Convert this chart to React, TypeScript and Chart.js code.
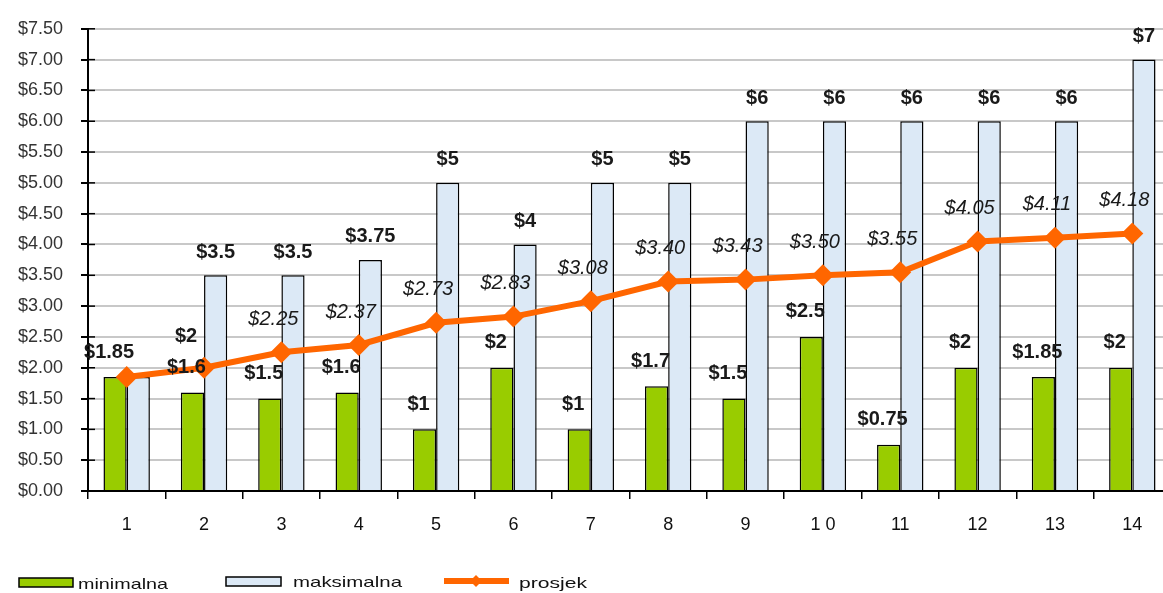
import React, { useEffect, useRef } from "react";
import { Chart, registerables } from "chart.js";

Chart.register(...registerables);

const categories = ["1", "2", "3", "4", "5", "6", "7", "8", "9", "1 0", "11", "12", "13", "14"];
const minValues = [1.85, 1.6, 1.5, 1.6, 1, 2, 1, 1.7, 1.5, 2.5, 0.75, 2, 1.85, 2];
const maxValues = [1.85, 3.5, 3.5, 3.75, 5, 4, 5, 5, 6, 6, 6, 6, 6, 7];
const avgValues = [1.85, 2, 2.25, 2.37, 2.73, 2.83, 3.08, 3.4, 3.43, 3.5, 3.55, 4.05, 4.11, 4.18];
const minLabels = ["$1.85", "$1.6", "$1.5", "$1.6", "$1", "$2", "$1", "$1.7", "$1.5", "$2.5", "$0.75", "$2", "$1.85", "$2"];
const maxLabels = ["", "$3.5", "$3.5", "$3.75", "$5", "$4", "$5", "$5", "$6", "$6", "$6", "$6", "$6", "$7"];
const avgLabels = ["", "$2", "$2.25", "$2.37", "$2.73", "$2.83", "$3.08", "$3.40", "$3.43", "$3.50", "$3.55", "$4.05", "$4.11", "$4.18"];
const seriesNames = ["minimalna", "maksimalna", "prosjek"];
const yTicks = { min: 0, max: 7.5, step: 0.5 };

const GREEN = "#99cc00";
const BLUE = "#dce9f6";
const ORANGE = "#ff6600";
const FONT = "'Liberation Sans', Arial, sans-serif";

const labelPlugin = {
  id: "valueLabels",
  afterDatasetsDraw(chart: any) {
    const ctx = chart.ctx;
    ctx.save();
    ctx.textAlign = "center";
    ctx.textBaseline = "middle";
    ctx.fillStyle = "#1a1a1a";
    const m0 = chart.getDatasetMeta(0).data;
    const m1 = chart.getDatasetMeta(1).data;
    const m2 = chart.getDatasetMeta(2).data;
    ctx.font = `bold 20px ${FONT}`;
    m0.forEach((el: any, i: number) => {
      if (minLabels[i]) ctx.fillText(minLabels[i], el.x - 6, el.y - 25);
    });
    m1.forEach((el: any, i: number) => {
      if (maxLabels[i]) ctx.fillText(maxLabels[i], el.x, el.y - 23);
    });
    m2.forEach((el: any, i: number) => {
      if (!avgLabels[i]) return;
      if (i === 1) {
        ctx.font = `bold 20px ${FONT}`;
        ctx.fillText(avgLabels[i], el.x - 18, el.y - 31);
      } else {
        ctx.font = `italic 20px ${FONT}`;
        ctx.fillText(avgLabels[i], el.x - 8, el.y - 33);
      }
    });
    ctx.restore();
  },
  afterDraw(chart: any) {
    const ctx = chart.ctx;
    ctx.save();
    const y = 583;
    ctx.fillStyle = GREEN;
    ctx.strokeStyle = "#000";
    ctx.lineWidth = 1.5;
    ctx.fillRect(19, y - 5, 54, 9);
    ctx.strokeRect(19, y - 5, 54, 9);
    ctx.fillStyle = BLUE;
    ctx.fillRect(226, y - 6, 55, 9);
    ctx.strokeRect(226, y - 6, 55, 9);
    ctx.strokeStyle = ORANGE;
    ctx.lineWidth = 6;
    ctx.beginPath();
    ctx.moveTo(444, y - 2);
    ctx.lineTo(509, y - 2);
    ctx.stroke();
    ctx.fillStyle = ORANGE;
    ctx.beginPath();
    ctx.moveTo(476, y - 8);
    ctx.lineTo(482, y - 2);
    ctx.lineTo(476, y + 4);
    ctx.lineTo(470, y - 2);
    ctx.closePath();
    ctx.fill();
    ctx.fillStyle = "#111";
    ctx.textBaseline = "middle";
    ctx.textAlign = "left";
    ctx.font = `15px ${FONT}`;
    const drawStretched = (t: string, x: number, yy: number, w: number) => {
      const mw = ctx.measureText(t).width;
      ctx.save();
      ctx.translate(x, yy);
      ctx.scale(w / mw, 1);
      ctx.fillText(t, 0, 0);
      ctx.restore();
    };
    drawStretched(seriesNames[0], 78, y + 2, 90);
    drawStretched(seriesNames[1], 293, y, 109);
    drawStretched(seriesNames[2], 519, y + 1, 68);
    const ys = chart.scales.y;
    const left = chart.chartArea.left;
    ctx.strokeStyle = "#000";
    ctx.lineWidth = 1.5;
    ys.ticks.forEach((t: any) => {
      const py = ys.getPixelForValue(t.value);
      ctx.beginPath();
      ctx.moveTo(left, py);
      ctx.lineTo(left + 7, py);
      ctx.stroke();
    });
    ctx.restore();
  },
};

export default function App() {
  const ref = useRef<HTMLCanvasElement | null>(null);
  useEffect(() => {
    if (!ref.current) return;
    const chart = new Chart(ref.current, {
      type: "bar",
      data: {
        labels: categories,
        datasets: [
          {
            type: "bar",
            label: seriesNames[0],
            data: minValues,
            backgroundColor: GREEN,
            borderColor: "#000",
            borderWidth: 1.5,
            categoryPercentage: 0.6,
            barPercentage: 1,
            order: 2,
          },
          {
            type: "bar",
            label: seriesNames[1],
            data: maxValues,
            backgroundColor: BLUE,
            borderColor: "#000",
            borderWidth: 1.5,
            categoryPercentage: 0.6,
            barPercentage: 1,
            order: 2,
          },
          {
            type: "line",
            label: seriesNames[2],
            data: avgValues,
            borderColor: ORANGE,
            backgroundColor: ORANGE,
            borderWidth: 6,
            pointStyle: "rectRot",
            pointRadius: 11,
            pointBorderWidth: 0,
            pointBackgroundColor: ORANGE,
            tension: 0,
            order: 0,
          } as any,
        ],
      },
      options: {
        animation: false,
        responsive: false,
        maintainAspectRatio: false,
        layout: { autoPadding: false, padding: { top: 24, right: 9, bottom: 0, left: 0 } } as any,
        plugins: { legend: { display: false }, tooltip: { enabled: false } },
        scales: {
          x: {
            offset: true,
            grid: {
              offset: true,
              drawOnChartArea: false,
              color: "#000",
              tickColor: "#000",
              tickLength: 8,
              lineWidth: 1.5,
            },
            border: { color: "#000", width: 2 },
            ticks: {
              color: "#111",
              padding: 15,
              font: { family: FONT, size: 18 },
              maxRotation: 0,
              autoSkip: false,
            },
            afterFit(axis: any) {
              axis.height = 102;
            },
          },
          y: {
            min: yTicks.min,
            max: yTicks.max,
            grid: {
              color: "#c8c8c8",
              lineWidth: 2,
              tickColor: "#000",
              tickLength: 7,
            },
            border: { color: "#000", width: 2 },
            ticks: {
              stepSize: yTicks.step,
              color: "#333",
              padding: 18,
              font: { family: FONT, size: 18 },
              callback: (v: any) => "$" + Number(v).toFixed(2),
            },
            afterFit(axis: any) {
              axis.width = 88;
            },
          },
        },
      },
      plugins: [labelPlugin],
    });
    return () => chart.destroy();
  }, []);
  return (
    <div style={{ position: "fixed", left: 0, top: 0, width: 1163, height: 593, overflow: "hidden", background: "#fff" }}>
      <canvas ref={ref} width={1180} height={593} style={{ display: "block", width: 1180, height: 593 }} />
    </div>
  );
}
